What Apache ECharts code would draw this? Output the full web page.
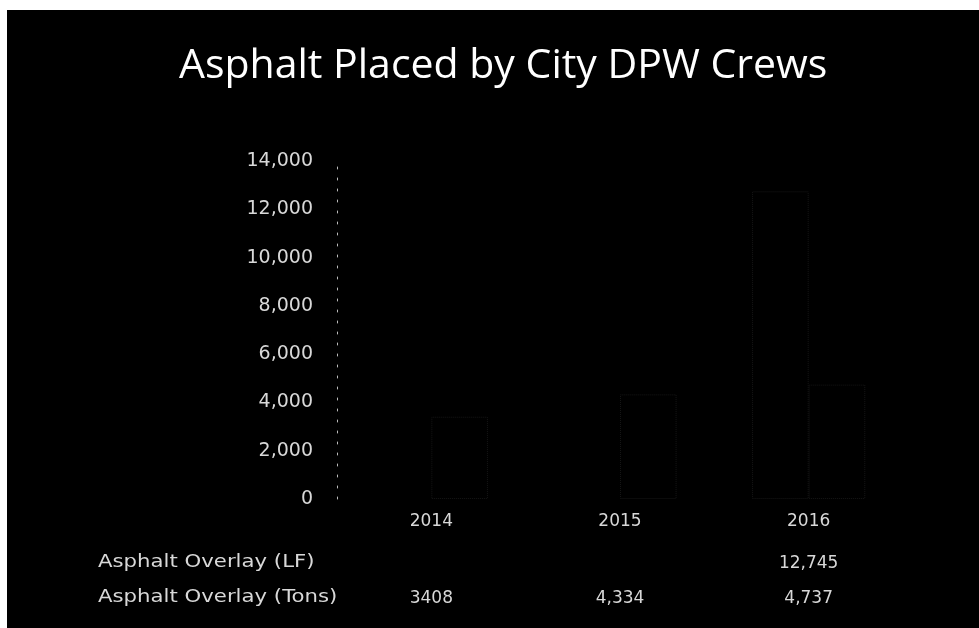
<!DOCTYPE html>
<html>
<head>
<meta charset="utf-8">
<script src="https://cdn.jsdelivr.net/npm/echarts@6/dist/echarts.min.js"></script>
<style>
  html, body { margin: 0; padding: 0; background: #fff; }
  #chart { width: 979px; height: 628px; }
</style>
</head>
<body>
<div id="chart"></div>
<script>
// data
var years = ['2014', '2015', '2016'];
var overlayLF = [null, null, 12745];
var overlayTons = [3408, 4334, 4737];
var tonsText = ['3408', '4,334', '4,737']; // 2014 is printed without a comma
var rowNames = ['Asphalt Overlay (LF)', 'Asphalt Overlay (Tons)'];

var chart = echarts.init(document.getElementById('chart'));

function fmt(v) {
    if (v == null) return '';
    return v.toLocaleString('en-US');
}

var tableFont = { color: '#d8d8d8', fontSize: 17, fontFamily: 'DejaVu Sans' };

var option = {
    backgroundColor: '#fff',
    animation: false,
    title: {
        text: 'Asphalt Placed by City DPW Crews',
        left: 174,
        top: 41,
        textStyle: { color: '#fff', fontSize: 41, fontWeight: 'normal', fontFamily: 'Open Sans' }
    },
    graphic: [
        // black panel of the slide (scan has a white margin top/left)
        { type: 'rect', z: -10, shape: { x: 7, y: 10, width: 972, height: 618 }, style: { fill: '#000' } },
        // row headers of the data table (scan stretches them sideways)
        { type: 'text', x: 98, y: 553, scaleX: 1.18,
          style: { text: rowNames[0], fill: '#d8d8d8', font: '18px "DejaVu Sans"' } },
        { type: 'text', x: 98, y: 588, scaleX: 1.18,
          style: { text: rowNames[1], fill: '#d8d8d8', font: '18px "DejaVu Sans"' } }
    ],
    grid: { left: 337, right: 76, top: 161, bottom: 129 },
    xAxis: [
        {
            type: 'category',
            data: years,
            axisLine: { show: false },
            axisTick: { show: false },
            axisLabel: Object.assign({ margin: 14 }, tableFont)
        },
        {
            type: 'category',
            data: years,
            position: 'bottom',
            offset: 52,
            axisLine: { show: false },
            axisTick: { show: false },
            axisLabel: Object.assign({
                margin: 4,
                formatter: function (v, i) { return fmt(overlayLF[i]); }
            }, tableFont)
        },
        {
            type: 'category',
            data: years,
            position: 'bottom',
            offset: 87,
            axisLine: { show: false },
            axisTick: { show: false },
            axisLabel: Object.assign({
                margin: 4,
                formatter: function (v, i) { return tonsText[i]; }
            }, tableFont)
        }
    ],
    yAxis: {
        type: 'value',
        min: 0,
        max: 14000,
        interval: 2000,
        splitLine: { show: false },
        axisTick: { show: false },
        axisLine: { show: true, lineStyle: { color: '#bbb', type: [2, 9], width: 1 } },
        axisLabel: {
            margin: 24,
            color: '#d8d8d8',
            fontSize: 19,
            fontFamily: 'DejaVu Sans',
            formatter: function (v) { return fmt(v); }
        }
    },
    series: [
        {
            name: rowNames[0],
            type: 'bar',
            data: overlayLF,
            barGap: '0%',
            barCategoryGap: '40%',
            itemStyle: { color: '#000', borderColor: '#161616', borderType: 'dotted', borderWidth: 1 }
        },
        {
            name: rowNames[1],
            type: 'bar',
            data: overlayTons,
            itemStyle: { color: '#000', borderColor: '#161616', borderType: 'dotted', borderWidth: 1 }
        }
    ]
};

chart.setOption(option);
</script>
</body>
</html>
